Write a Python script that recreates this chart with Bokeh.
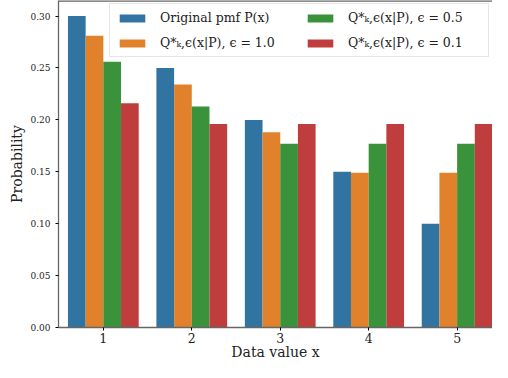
from bokeh.plotting import figure
from bokeh.models import ColumnDataSource, Legend, LegendItem, FixedTicker, NumeralTickFormatter, Range1d, Span
from bokeh.transform import dodge
from bokeh.embed import file_html
from bokeh.resources import INLINE

x_values = [1, 2, 3, 4, 5]
p_orig = [0.300, 0.250, 0.200, 0.150, 0.100]
q_eps10 = [0.281, 0.234, 0.188, 0.149, 0.149]
q_eps05 = [0.256, 0.213, 0.177, 0.177, 0.177]
q_eps01 = [0.216, 0.196, 0.196, 0.196, 0.196]

series_labels = [
    "Original pmf P(x)",
    "Q*ₖ,ϵ(x|P), ϵ = 1.0",
    "Q*ₖ,ϵ(x|P), ϵ = 0.5",
    "Q*ₖ,ϵ(x|P), ϵ = 0.1",
]
colors = ["#3274a1", "#e1812c", "#3a923a", "#c03d3e"]
y_ticks = [0.0, 0.05, 0.10, 0.15, 0.20, 0.25, 0.30]

FONT = "DejaVu Serif"

src = ColumnDataSource(dict(x=x_values, a=p_orig, b=q_eps10, c=q_eps05, d=q_eps01))

p = figure(width=492, height=362, output_backend="svg", toolbar_location=None,
           x_range=Range1d(0.493, 5.40), y_range=Range1d(0, 0.315),
           min_border_left=58, min_border_right=0, min_border_top=0, min_border_bottom=35)

bw = 0.2
offs = [-0.3, -0.1, 0.1, 0.3]
renderers = []
for col, off, c in zip(["a", "b", "c", "d"], offs, colors):
    r = p.vbar(x=dodge("x", off, range=p.x_range), top=col, width=bw, source=src,
               fill_color=c, line_color=None)
    renderers.append(r)

p.grid.visible = False
p.outline_line_color = None
p.background_fill_color = "white"

# axes styling
p.xaxis.ticker = FixedTicker(ticks=x_values)
p.yaxis.ticker = FixedTicker(ticks=y_ticks)
p.yaxis.formatter = NumeralTickFormatter(format="0.00")
for ax in [p.xaxis[0], p.yaxis[0]]:
    ax.axis_line_color = "#666666"
    ax.axis_line_width = 1.3
    ax.major_tick_line_color = "black"
    ax.major_tick_in = 0
    ax.major_tick_out = 3
    ax.minor_tick_line_color = None
    ax.major_label_text_font = FONT
    ax.axis_label_text_font = FONT
    ax.axis_label_text_font_style = "normal"
    ax.axis_label_text_color = "#222222"
    ax.major_label_text_color = "#222222"
p.xaxis.major_label_text_font_size = "12.5px"
p.yaxis.major_label_text_font_size = "9px"
p.xaxis.axis_label = "Data value x"
p.yaxis.axis_label = "Probability"
p.xaxis.axis_label_text_font_size = "14px"
p.yaxis.axis_label_text_font_size = "14px"
p.xaxis.axis_label_standoff = -2
p.yaxis.axis_label_standoff = 2
p.xaxis.major_label_standoff = 2

top_spine = Span(location=0.315, dimension="width", line_color="#666666", line_width=2.6)
p.add_layout(top_spine)

items = [LegendItem(label=lab, renderers=[r]) for lab, r in zip(series_labels, renderers)]
legend = Legend(items=items, ncols=2, location="top_right")
legend.label_text_font = FONT
legend.label_text_font_size = "12.5px"
legend.label_text_color = "#222222"
legend.glyph_width = 32
legend.glyph_height = 10
legend.label_standoff = 12
legend.label_width = 134
legend.label_height = 14
legend.spacing = 10
legend.padding = 6
legend.margin = 3
legend.border_line_color = "#cccccc"
legend.border_line_width = 1
legend.background_fill_alpha = 0.85
p.add_layout(legend, "center")

open("out.html", "w").write(file_html(p, INLINE))
